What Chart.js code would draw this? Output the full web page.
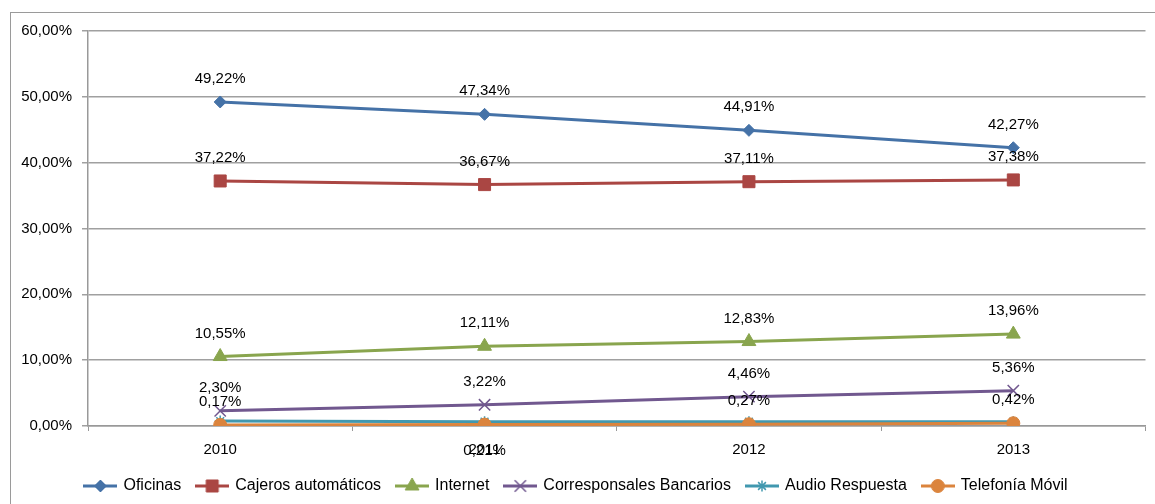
<!DOCTYPE html>
<html>
<head>
<meta charset="utf-8">
<script src="https://cdn.jsdelivr.net/npm/chart.js@4/dist/chart.umd.min.js"></script>
<style>
  html, body { margin: 0; padding: 0; background: #fff; }
  #wrap { width: 1155px; height: 504px; position: relative; }
</style>
</head>
<body>
<div id="wrap"><canvas id="canal-chart" width="1155" height="504"></canvas></div>
<script>
// Datos (porcentaje de transacciones por canal)
const years = ['2010', '2011', '2012', '2013'];
const oficinas = [49.22, 47.34, 44.91, 42.27];
const cajeros = [37.22, 36.67, 37.11, 37.38];
const internet = [10.55, 12.11, 12.83, 13.96];
const corresponsales = [2.30, 3.22, 4.46, 5.36];
const audioRespuesta = [0.75, 0.65, 0.64, 0.66];
const telefoniaMovil = [0.17, 0.21, 0.27, 0.42];
const yTicks = [0, 10, 20, 30, 40, 50, 60];

const FONT = 'Liberation Sans, Arial, sans-serif';

function pct(v) {
    return v.toFixed(2).replace('.', ',') + '%';
}

// icono de leyenda: linea + marcador
function legendIcon(ds) {
    const c = document.createElement('canvas');
    c.width = 34; c.height = 18;
    const ctx = c.getContext('2d');
    ctx.strokeStyle = ds.borderColor;
    ctx.lineWidth = 3;
    ctx.beginPath();
    ctx.moveTo(0, 9);
    ctx.lineTo(34, 9);
    ctx.stroke();
    ctx.fillStyle = ds.pointBackgroundColor;
    ctx.strokeStyle = ds.pointBorderColor;
    ctx.lineWidth = ds.pointBorderWidth;
    Chart.helpers.drawPoint(ctx, {
        pointStyle: ds.pointStyle,
        radius: ds.pointRadius,
        rotation: 0,
        borderWidth: ds.pointBorderWidth
    }, 17, 9);
    return c;
}

function serie(label, data, color, style, radius, extra) {
    return Object.assign({
        label: label,
        data: data,
        borderColor: color,
        backgroundColor: color,
        pointBackgroundColor: color,
        pointBorderColor: color,
        pointBorderWidth: 1,
        pointStyle: style,
        pointRadius: radius,
        pointHoverRadius: radius,
        borderWidth: 3,
        tension: 0,
        fill: false
    }, extra || {});
}

const datasets = [
    serie('Oficinas', oficinas, '#4572A7', 'rectRot', 6, { order: 6 }),
    serie('Cajeros automáticos', cajeros, '#AA4643', 'rect', 8.5, { order: 5 }),
    serie('Internet', internet, '#89A54E', 'triangle', 8, { order: 4 }),
    serie('Corresponsales Bancarios', corresponsales, '#71588F', 'crossRot', 8, { order: 3, pointBorderWidth: 1.5 }),
    serie('Audio Respuesta', audioRespuesta, '#4198AF', 'star', 5.5, { order: 2, pointBorderWidth: 1.5, showLabels: false }),
    serie('Telefonía Móvil', telefoniaMovil, '#DB843D', 'circle', 6.5, { order: 1, labelBelow: [1] })
];

// etiquetas de datos sobre cada punto
const dataLabels = {
    id: 'dataLabels',
    afterDatasetsDraw(chart) {
        const ctx = chart.ctx;
        ctx.save();
        ctx.font = '15px ' + FONT;
        ctx.fillStyle = '#000';
        ctx.textAlign = 'center';
        ctx.textBaseline = 'middle';
        chart.data.datasets.forEach((ds, i) => {
            if (ds.showLabels === false) return;
            const meta = chart.getDatasetMeta(i);
            meta.data.forEach((pt, j) => {
                const below = ds.labelBelow && ds.labelBelow.includes(j);
                ctx.fillText(pct(ds.data[j]), pt.x, pt.y + (below ? 26 : -23));
            });
        });
        ctx.restore();
    }
};

// marco exterior del grafico
const frame = {
    id: 'frame',
    beforeDraw(chart) {
        const ctx = chart.ctx;
        ctx.save();
        ctx.strokeStyle = '#9a9a9a';
        ctx.lineWidth = 1;
        ctx.strokeRect(10.5, 12.5, 2000, 2000);
        ctx.restore();
    }
};

const chart = new Chart(document.getElementById('canal-chart'), {
    type: 'line',
    data: { labels: years, datasets: datasets },
    plugins: [frame, dataLabels],
    options: {
        responsive: false,
        animation: false,
        layout: { padding: { top: 31, right: 2, left: 0, bottom: 0 } },
        plugins: {
            tooltip: { enabled: false },
            legend: {
                position: 'bottom',
                labels: {
                    usePointStyle: true,
                    pointStyleWidth: 30,
                    padding: 16,
                    color: '#000',
                    font: { family: FONT, size: 16 },
                    generateLabels(chart) {
                        return chart.data.datasets.map((ds, i) => ({
                            text: ds.label,
                            pointStyle: legendIcon(ds),
                            fillStyle: ds.borderColor,
                            strokeStyle: ds.borderColor,
                            lineWidth: 0,
                            fontColor: '#000',
                            datasetIndex: i,
                            hidden: false
                        }));
                    }
                }
            }
        },
        scales: {
            x: {
                offset: true,
                afterFit(scale) { scale.height = 36; },
                grid: {
                    offset: true,
                    drawOnChartArea: false,
                    drawTicks: true,
                    tickLength: 5,
                    color: '#999'
                },
                border: { color: '#999', width: 1.5 },
                ticks: {
                    color: '#000',
                    padding: 10,
                    font: { family: FONT, size: 15 }
                }
            },
            y: {
                min: 0,
                max: 60,
                afterFit(scale) { scale.width = 88; },
                afterBuildTicks(scale) {
                    scale.ticks = yTicks.map(v => ({ value: v }));
                },
                grid: {
                    color: '#a0a0a0',
                    lineWidth: 1.5,
                    drawTicks: true,
                    tickLength: 6
                },
                border: { color: '#999', width: 1.5 },
                ticks: {
                    color: '#000',
                    padding: 10,
                    font: { family: FONT, size: 15 },
                    callback: v => pct(v)
                }
            }
        }
    }
});
</script>
</body>
</html>
